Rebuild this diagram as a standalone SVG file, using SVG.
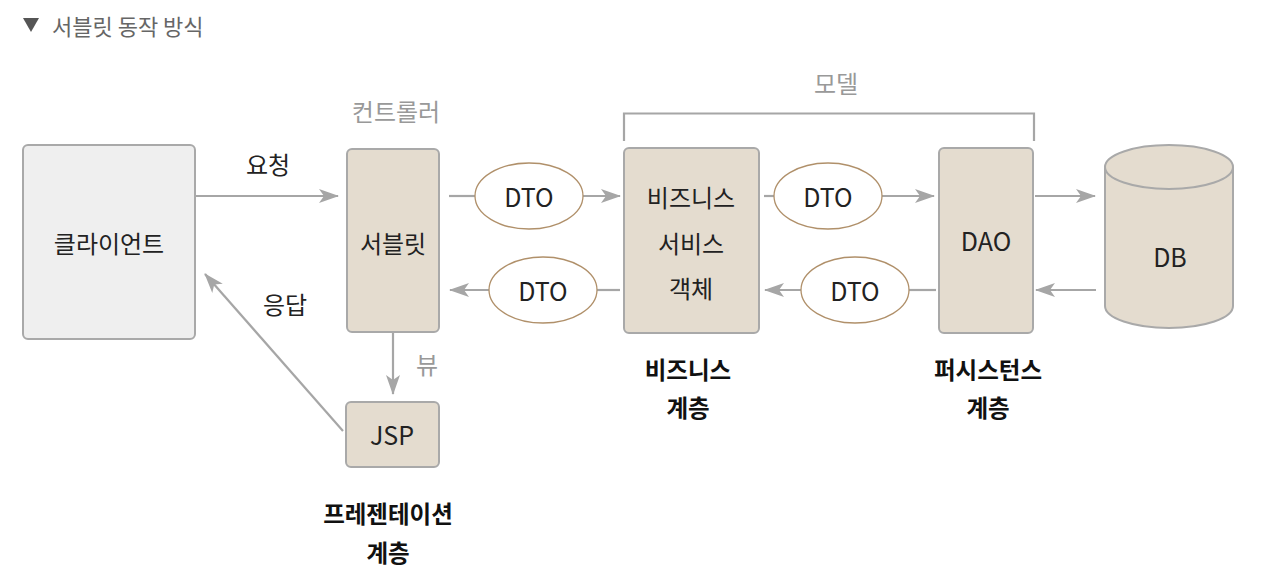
<svg xmlns="http://www.w3.org/2000/svg" width="1271" height="583" viewBox="0 0 1271 583">
<defs>
<marker id="ah" markerUnits="userSpaceOnUse" markerWidth="20" markerHeight="14" refX="19" refY="7" orient="auto">
<path d="M0,0 L20,7 L0,14 L5,7 Z" fill="#a6a6a6"/>
</marker>
</defs>
<style>
text{font-family:"Noto Sans CJK KR","Noto Sans",sans-serif;text-anchor:middle;dominant-baseline:central}
.box{fill:#e4dccf;stroke:#a9a9a9;stroke-width:2}
.cl{fill:#efefef;stroke:#a9a9a9;stroke-width:2}
.dto{fill:#fff;stroke:#b0906a;stroke-width:1.3}
.ln{stroke:#a6a6a6;stroke-width:2.2;fill:none}
.t{font-size:24px;fill:#222}
.l{font-size:25px;fill:#222}
.g{font-size:24px;fill:#999}
.b{font-size:23.5px;font-weight:bold;fill:#111}
</style>
<rect width="1271" height="583" fill="#fff"/>
<g id="title">
<path d="M23,18 L39,18 L31,32 Z" fill="#555"/>
<text x="52" y="25" style="font-size:22px;fill:#666;text-anchor:start">서블릿 동작 방식</text>
</g>
<g id="connectors">
<line class="ln" x1="195" y1="196" x2="338" y2="196" marker-end="url(#ah)"/>
<line class="ln" x1="343" y1="431" x2="205" y2="274" marker-end="url(#ah)"/>
<line class="ln" x1="393" y1="332" x2="393" y2="394" marker-end="url(#ah)"/>
<line class="ln" x1="449" y1="196" x2="476" y2="196"/>
<line class="ln" x1="583" y1="196" x2="620" y2="196" marker-end="url(#ah)"/>
<line class="ln" x1="620" y1="290" x2="597" y2="290"/>
<line class="ln" x1="489" y1="290" x2="450" y2="290" marker-end="url(#ah)"/>
<line class="ln" x1="764" y1="196" x2="774" y2="196"/>
<line class="ln" x1="882" y1="196" x2="934" y2="196" marker-end="url(#ah)"/>
<line class="ln" x1="936" y1="290" x2="909" y2="290"/>
<line class="ln" x1="801" y1="290" x2="765" y2="290" marker-end="url(#ah)"/>
<line class="ln" x1="1035" y1="196" x2="1095" y2="196" marker-end="url(#ah)"/>
<line class="ln" x1="1096" y1="290" x2="1036" y2="290" marker-end="url(#ah)"/>
<path class="ln" d="M624,141 V113.5 H1034 V141"/>
</g>
<g id="labels">
<text class="t" x="268" y="163">요청</text>
<text class="t" x="285" y="303">응답</text>
<text class="g" x="427" y="363">뷰</text>
<text class="g" x="396" y="110">컨트롤러</text>
<text class="g" x="836" y="82">모델</text>
</g>
<g id="client">
<rect class="cl" x="23" y="145" width="172" height="194" rx="5"/>
<text class="t" x="109" y="242">클라이언트</text>
</g>
<g id="servlet">
<rect class="box" x="347" y="149" width="92" height="183" rx="5"/>
<text class="t" x="393" y="242">서블릿</text>
</g>
<g id="jsp">
<rect class="box" x="346" y="402" width="93" height="65" rx="5"/>
<text class="l" x="392" y="434">JSP</text>
</g>
<g id="dto1">
<ellipse class="dto" cx="529" cy="196" rx="54" ry="33"/>
<text class="l" x="529" y="196">DTO</text>
</g>
<g id="dto2">
<ellipse class="dto" cx="543" cy="290" rx="54" ry="33"/>
<text class="l" x="543" y="290">DTO</text>
</g>
<g id="business">
<rect class="box" x="624" y="148" width="135" height="185" rx="5"/>
<text class="t" x="691" y="196">비즈니스</text>
<text class="t" x="691" y="242">서비스</text>
<text class="t" x="691" y="287">객체</text>
</g>
<g id="dto3">
<ellipse class="dto" cx="828" cy="196" rx="54" ry="33"/>
<text class="l" x="828" y="196">DTO</text>
</g>
<g id="dto4">
<ellipse class="dto" cx="855" cy="290" rx="54" ry="33"/>
<text class="l" x="855" y="290">DTO</text>
</g>
<g id="dao">
<rect class="box" x="939" y="148" width="94" height="185" rx="5"/>
<text class="l" x="986" y="240">DAO</text>
</g>
<g id="db">
<path class="box" d="M1105,167 V306 A64,22 0 0 0 1233,306 V167 A64,22 0 0 0 1105,167 Z"/>
<path class="box" d="M1105,167 A64,22 0 0 0 1233,167"/>
<text class="l" x="1170" y="256">DB</text>
</g>
<g id="layers">
<text class="b" x="688" y="369">비즈니스</text>
<text class="b" x="688" y="407">계층</text>
<text class="b" x="988" y="369">퍼시스턴스</text>
<text class="b" x="988" y="407">계층</text>
<text class="b" x="388" y="513">프레젠테이션</text>
<text class="b" x="388" y="552">계층</text>
</g>
</svg>
